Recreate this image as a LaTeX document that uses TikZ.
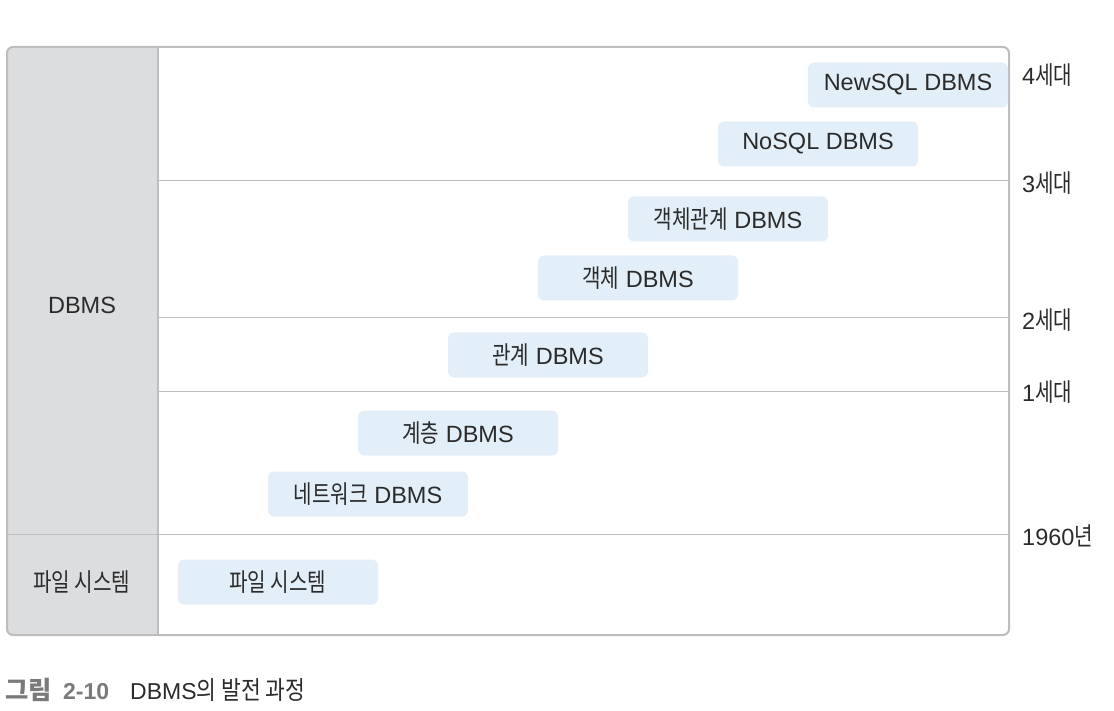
\documentclass[tikz,border=0pt]{standalone}
\usepackage{fontspec}
\setmainfont{Liberation Sans}
\newfontfamily\kr[FakeStretch=0.8,Scale=1.07]{Noto Sans CJK KR}
\newfontfamily\krc[FakeStretch=0.85,Scale=1.1]{Noto Sans CJK KR}
\newfontfamily\krb[Scale=1.1]{Noto Sans CJK KR Bold}
\definecolor{framegray}{HTML}{BDBDBD}
\definecolor{colgray}{HTML}{DCDDDF}
\definecolor{boxblue}{HTML}{E3EFF8}
\definecolor{txt}{HTML}{2B2B2B}
\definecolor{capgray}{HTML}{7A7A7A}
\begin{document}
\begin{tikzpicture}[x=1pt,y=-1pt,
  era/.style={fill=boxblue,rounded corners=6pt,minimum width=200pt,minimum height=45pt,inner sep=0pt,font=\fontsize{23.5}{26}\selectfont,text=txt},
  gen/.style={anchor=west,font=\fontsize{23.5}{26}\selectfont,text=txt,inner sep=0pt},
  rowline/.style={draw=framegray,line width=1pt},
  collabel/.style={font=\fontsize{23.5}{26}\selectfont,text=txt,inner sep=0pt}]
\useasboundingbox (0,0) rectangle (1114,711);
% left column
\fill[colgray,rounded corners=6pt] (7,47) rectangle (158,635);
\fill[colgray] (100,47) rectangle (158,635);
% row lines
\coordinate (l1a) at (158,181); \coordinate (l1b) at (1009,181);
\coordinate (l2a) at (158,318); \coordinate (l2b) at (1009,318);
\coordinate (l3a) at (158,391); \coordinate (l3b) at (1009,391);
\coordinate (l4a) at (7,534); \coordinate (l4b) at (1009,534);
\draw[rowline] (l1a) -- (l1b);
\draw[rowline] (l2a) -- (l2b);
\draw[rowline] (l3a) -- (l3b);
\draw[rowline] (l4a) -- (l4b);
\coordinate (vt) at (158,47); \coordinate (vb) at (158,635);
\draw[draw=framegray,line width=1.5pt] (vt) -- (vb);
% frame
\draw[draw=framegray,line width=2pt,rounded corners=6pt] (7,47) rectangle (1009,635);
% column labels
\node[collabel] (dbms) at (82,305) {DBMS};
\node[collabel] (fs) at (82,582) {\kr 파일 시스템};
% era boxes
\node[era] (newsql) at (908,85) {NewSQL DBMS};
\node[era] (nosql) at (818,144) {NoSQL DBMS};
\node[era] (objrel) at (728,219) {{\kr 객체관계} DBMS};
\node[era] (obj) at (638,278) {{\kr 객체} DBMS};
\node[era] (rel) at (548,355) {{\kr 관계} DBMS};
\node[era] (hier) at (458,433) {{\kr 계층} DBMS};
\node[era] (net) at (368,494) {{\kr 네트워크} DBMS};
\node[era] (file) at (278,582) {\kr 파일 시스템};
% generation labels
\node[gen] (g4) at (1022,75) {4{\kr 세대}};
\node[gen] (g3) at (1022,183) {3{\kr 세대}};
\node[gen] (g2) at (1022,320) {2{\kr 세대}};
\node[gen] (g1) at (1022,392) {1{\kr 세대}};
\node[gen] (g0) at (1022,536) {1960{\kr 년}};
% caption
\node[anchor=west,inner sep=0pt,font=\fontsize{23}{26}\selectfont\bfseries,text=capgray] (capnum) at (5,690) {{\krb 그림}\hspace{5pt} 2-10};
\node[anchor=west,inner sep=0pt,font=\fontsize{23}{26}\selectfont,text=txt] (captxt) at (130,690) {DBMS{\krc 의 발전 과정}};
\end{tikzpicture}
\end{document}
